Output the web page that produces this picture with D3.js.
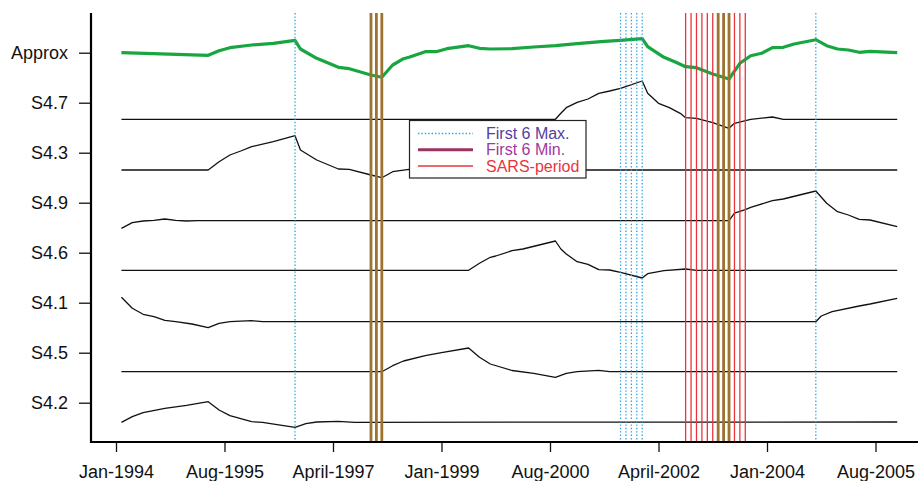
<!DOCTYPE html>
<html>
<head>
<meta charset="utf-8">
<script src="https://cdn.jsdelivr.net/npm/d3@7"></script>
<style>
  html, body { margin: 0; padding: 0; background: #fff; }
  svg { display: block; font-family: "Liberation Sans", Arial, Helvetica, sans-serif; }
</style>
</head>
<body>
<svg id="chart" width="918" height="481"></svg>
<script>
// ---------- data (month index since Jan-1994, value relative to each row's tick) ----------
const tickMonths = [0, 20, 40, 60, 80, 100, 120, 140];
const tickLabels = ["Jan-1994", "Aug-1995", "April-1997", "Jan-1999", "Aug-2000", "April-2002", "Jan-2004", "Aug-2005"];

const rowLabels = ["S4.2", "S4.5", "S4.1", "S4.6", "S4.9", "S4.3", "S4.7", "Approx"];

const approx = [[1,0],[17,-0.052],[19,0.04],[21,0.10],[25,0.154],[29,0.188],[33,0.248],[34,0.074],[37,-0.112],
  [41,-0.292],[43,-0.32],[47,-0.446],[49,-0.492],[51,-0.246],[53,-0.12],[54,-0.092],[57,0.02],[59,0.02],[61,0.08],
  [65,0.14],[67,0.088],[69,0.074],[73,0.08],[77,0.114],[81,0.14],[85,0.18],[90,0.228],[93,0.248],[97,0.28],
  [98,0.12],[101,-0.092],[103,-0.18],[105,-0.28],[107,-0.30],[110,-0.426],[113,-0.526],[115,-0.212],[117,-0.06],
  [119,-0.012],[121,0.10],[123,0.108],[125,0.174],[129,0.26],[131,0.14],[133,0.074],[135,0.054],[137,0.008],
  [139,0.028],[144,0]];
const s47 = [[1,-0.332],[81,-0.332],[82,-0.212],[83,-0.10],[85,0.008],[87,0.074],[89,0.188],[91,0.234],[93,0.288],
  [97,0.434],[98,0.188],[100,-0.012],[102,-0.10],[104,-0.212],[105,-0.30],[107,-0.312],[110,-0.40],[113,-0.512],
  [114,-0.412],[117,-0.332],[121,-0.286],[123,-0.332],[144,-0.332]];
const s43 = [[1,-0.346],[17,-0.346],[19,-0.18],[21,-0.046],[23,0.034],[25,0.12],[29,0.22],[33,0.34],[34,0.054],
  [37,-0.146],[41,-0.326],[43,-0.332],[47,-0.446],[49,-0.50],[51,-0.38],[54,-0.332],[57,-0.346],[144,-0.346]];
const s49 = [[1,-0.512],[3,-0.40],[5,-0.366],[7,-0.352],[9,-0.326],[11,-0.352],[13,-0.366],[15,-0.36],[113,-0.36],
  [114,-0.21],[116,-0.14],[117,-0.092],[121,0.04],[123,0.074],[129,0.234],[131,-0.012],[133,-0.18],[135,-0.246],
  [137,-0.332],[139,-0.346],[144,-0.48]];
const s46 = [[1,-0.352],[65,-0.352],[67,-0.212],[69,-0.092],[70,-0.066],[73,0.04],[75,0.074],[78,0.154],[81,0.234],
  [82,0.074],[83,-0.026],[85,-0.18],[87,-0.232],[89,-0.34],[91,-0.346],[93,-0.392],[97,-0.506],[98,-0.42],
  [101,-0.36],[105,-0.326],[107,-0.352],[144,-0.352]];
const s41 = [[1,0.108],[3,-0.112],[5,-0.232],[7,-0.28],[9,-0.352],[11,-0.38],[14,-0.426],[17,-0.50],[19,-0.412],
  [21,-0.38],[25,-0.36],[27,-0.38],[129,-0.38],[130,-0.266],[132,-0.18],[137,-0.066],[139,-0.026],[144,0.088]];
const s45 = [[1,-0.38],[49,-0.38],[51,-0.26],[53,-0.166],[57,-0.06],[60,0],[65,0.094],[67,-0.092],[69,-0.226],
  [73,-0.356],[77,-0.412],[81,-0.492],[83,-0.412],[85,-0.38],[89,-0.352],[91,-0.38],[144,-0.38]];
const s42 = [[1,-0.392],[3,-0.28],[5,-0.20],[9,-0.112],[13,-0.052],[17,0.02],[19,-0.146],[21,-0.26],[25,-0.38],
  [27,-0.392],[33,-0.492],[35,-0.42],[37,-0.386],[41,-0.372],[44,-0.392],[144,-0.386]];

const maxMonths = [33, 93, 94, 95, 96, 97, 129];
const minMonths = [47, 48, 49, 111, 112, 113];
const sarsMonths = [105, 106, 107, 108, 109, 110, 114, 115, 116, 111, 112, 113];

const legendLabels = ["First 6 Max.", "First 6 Min.", "SARS-period"];

// ---------- layout ----------
const svg = d3.select("#chart");
const plotLeft = 91, plotTop = 13, plotBottom = 442, plotRight = 918;

const x = d3.scaleLinear().domain([0, 140]).range([116, 875.5]);
const y = d3.scaleLinear().domain([0, 9]).range([452.7, 2.7]);

const series = [
  { row: 1, data: s42 }, { row: 2, data: s45 }, { row: 3, data: s41 }, { row: 4, data: s46 },
  { row: 5, data: s49 }, { row: 6, data: s43 }, { row: 7, data: s47 }
];

// ---------- series ----------
const line = d3.line().x(d => x(d[0])).y(d => y(d[1] + d.row));
function path(row, data) {
  return d3.line().x(d => x(d[0])).y(d => y(row + d[1]))(data);
}
series.forEach(s => {
  svg.append("path").attr("d", path(s.row, s.data))
    .attr("fill", "none").attr("stroke", "#111").attr("stroke-width", 1.3)
    .attr("stroke-linejoin", "round");
});
svg.append("path").attr("d", path(8, approx))
  .attr("fill", "none").attr("stroke", "#17a640").attr("stroke-width", 3.2)
  .attr("stroke-linejoin", "round");

// ---------- event lines ----------
svg.selectAll("line.sars").data(sarsMonths).enter().append("line")
  .attr("x1", d => x(d)).attr("x2", d => x(d)).attr("y1", plotTop).attr("y2", plotBottom)
  .attr("stroke", "#e8353d").attr("stroke-width", 1.3);
svg.selectAll("line.min").data(minMonths).enter().append("line")
  .attr("x1", d => x(d)).attr("x2", d => x(d)).attr("y1", plotTop).attr("y2", plotBottom)
  .attr("stroke", "#9c7430").attr("stroke-width", 2.8);
svg.selectAll("line.max").data(maxMonths).enter().append("line")
  .attr("x1", d => x(d)).attr("x2", d => x(d)).attr("y1", plotTop).attr("y2", plotBottom)
  .attr("stroke", "#2ea4df").attr("stroke-width", 1.3).attr("stroke-dasharray", "1.4,2");

// ---------- axes ----------
const xAxis = d3.axisBottom(x).tickValues(tickMonths)
  .tickFormat((d, i) => tickLabels[i]).tickSize(10).tickPadding(13);
const gx = svg.append("g").attr("transform", `translate(0,${plotBottom})`).call(xAxis);
gx.select(".domain").remove();
gx.selectAll(".tick line").attr("stroke", "#111").attr("stroke-width", 1.3);
gx.selectAll(".tick text").attr("font-size", 18).attr("fill", "#111")
  .attr("font-family", "'Liberation Sans', Arial, sans-serif");

const yAxis = d3.axisLeft(y).tickValues([1,2,3,4,5,6,7,8])
  .tickFormat((d, i) => rowLabels[i]).tickSize(12).tickPadding(11);
const gy = svg.append("g").attr("transform", `translate(${plotLeft},0)`).call(yAxis);
gy.select(".domain").remove();
gy.selectAll(".tick line").attr("stroke", "#111").attr("stroke-width", 1.3);
gy.selectAll(".tick text").attr("font-size", 18).attr("fill", "#111")
  .attr("font-family", "'Liberation Sans', Arial, sans-serif");

svg.append("line").attr("x1", plotLeft).attr("x2", plotLeft).attr("y1", plotTop).attr("y2", plotBottom + 1)
  .attr("stroke", "#000").attr("stroke-width", 2.2);
svg.append("line").attr("x1", plotLeft - 1).attr("x2", plotRight).attr("y1", plotBottom).attr("y2", plotBottom)
  .attr("stroke", "#000").attr("stroke-width", 2.2);

// ---------- legend ----------
const lg = svg.append("g");
lg.append("rect").attr("x", 409.5).attr("y", 120.5).attr("width", 176.5).attr("height", 57.5)
  .attr("fill", "#fff").attr("stroke", "#222").attr("stroke-width", 1.2);
const legendStyles = [
  { stroke: "#2ea4df", width: 1.3, dash: "1.4,2", text: "#5540a0" },
  { stroke: "#9b3462", width: 3, dash: null, text: "#a2389f" },
  { stroke: "#e8353d", width: 1.3, dash: null, text: "#e8353d" }
];
const legendY = [133.5, 149.8, 166];
legendLabels.forEach((lab, i) => {
  const st = legendStyles[i];
  const l = lg.append("line").attr("x1", 418).attr("x2", 473).attr("y1", legendY[i]).attr("y2", legendY[i])
    .attr("stroke", st.stroke).attr("stroke-width", st.width);
  if (st.dash) l.attr("stroke-dasharray", st.dash);
  lg.append("text").attr("x", 486).attr("y", legendY[i]).attr("dy", "0.35em")
    .attr("font-size", 16).attr("fill", st.text).text(lab);
});
</script>
</body>
</html>
